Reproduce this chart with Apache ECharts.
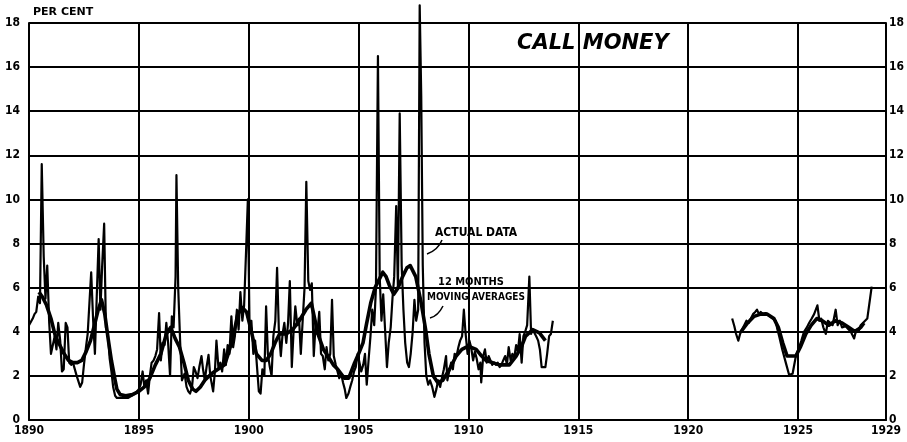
<!DOCTYPE html>
<html>
<head>
<meta charset="utf-8">
<title>Call Money</title>
<script src="https://cdn.jsdelivr.net/npm/echarts@6/dist/echarts.min.js"></script>
<style>
  html, body { margin: 0; padding: 0; background: #fff; }
  #chart { width: 907px; height: 442px; }
</style>
</head>
<body>
<div id="chart"></div>
<script>
// call money rates, per cent — [year, rate]
const actual1890 = [
  [1890.00, 4.3], [1890.08, 4.3], [1890.17, 4.6], [1890.25, 4.8], [1890.33, 4.9], [1890.42, 5.6],
  [1890.50, 5.3], [1890.58, 11.6], [1890.67, 7.4], [1890.75, 5.5], [1890.83, 7.0], [1890.92, 4.4],
  [1891.00, 3.0], [1891.08, 3.0], [1891.17, 3.8], [1891.25, 3.2], [1891.33, 4.4], [1891.42, 3.6],
  [1891.50, 2.2], [1891.58, 2.3], [1891.67, 4.4], [1891.75, 4.2], [1891.83, 2.6], [1891.92, 2.5],
  [1892.00, 2.6], [1892.17, 2.0], [1892.33, 1.5], [1892.42, 1.7], [1892.50, 2.5], [1892.58, 3.2],
  [1892.67, 3.9], [1892.75, 5.3], [1892.83, 6.7], [1892.92, 4.5], [1893.00, 3.0], [1893.08, 5.5],
  [1893.17, 8.2], [1893.25, 5.0], [1893.33, 7.0], [1893.42, 8.9], [1893.50, 4.2], [1893.58, 4.0],
  [1893.67, 2.8], [1893.75, 2.2], [1893.83, 1.5], [1893.92, 1.1], [1894.00, 1.0], [1894.17, 1.0],
  [1894.33, 1.0], [1894.50, 1.0], [1894.67, 1.1], [1894.83, 1.2], [1895.00, 1.4], [1895.08, 1.6],
  [1895.17, 2.2], [1895.25, 1.5], [1895.33, 1.8], [1895.42, 1.2], [1895.50, 2.0], [1895.58, 2.6],
  [1895.67, 2.7], [1895.75, 2.9], [1895.83, 3.2], [1895.92, 4.85], [1896.00, 2.7], [1896.08, 3.5],
  [1896.17, 3.4], [1896.25, 4.4], [1896.33, 3.5], [1896.42, 2.0], [1896.50, 4.7], [1896.58, 4.2],
  [1896.67, 6.5], [1896.71, 11.1], [1896.79, 6.0], [1896.88, 3.5], [1896.96, 1.8], [1897.08, 2.1],
  [1897.17, 1.5], [1897.25, 1.3], [1897.33, 1.2], [1897.42, 1.5], [1897.50, 2.4], [1897.58, 2.2],
  [1897.67, 1.9], [1897.75, 2.4], [1897.85, 2.9], [1897.92, 2.3], [1898.00, 1.8], [1898.08, 2.4],
  [1898.17, 2.95], [1898.25, 2.0], [1898.38, 1.3], [1898.46, 2.2], [1898.53, 3.6], [1898.62, 2.4],
  [1898.71, 2.6], [1898.79, 2.2], [1898.88, 3.2], [1898.96, 2.5], [1899.04, 3.4], [1899.12, 3.0],
  [1899.21, 4.7], [1899.29, 3.3], [1899.37, 3.8], [1899.46, 5.0], [1899.54, 4.1], [1899.62, 5.8],
  [1899.71, 4.5], [1899.79, 5.2], [1899.88, 7.7], [1899.96, 10.0], [1900.04, 4.0], [1900.12, 4.5],
  [1900.21, 3.0], [1900.29, 3.6], [1900.37, 2.5], [1900.46, 1.3], [1900.54, 1.2], [1900.62, 2.3],
  [1900.71, 2.0], [1900.79, 5.15], [1900.87, 3.0], [1900.96, 2.4], [1901.04, 2.0], [1901.12, 3.8],
  [1901.21, 4.5], [1901.29, 6.9], [1901.37, 4.1], [1901.46, 2.9], [1901.54, 3.9], [1901.62, 4.4],
  [1901.71, 3.5], [1901.79, 4.4], [1901.87, 6.3], [1901.96, 2.4], [1902.04, 4.0], [1902.12, 5.15],
  [1902.21, 4.3], [1902.29, 4.6], [1902.37, 3.0], [1902.46, 4.6], [1902.54, 6.0], [1902.62, 10.8],
  [1902.71, 6.3], [1902.79, 5.9], [1902.87, 6.2], [1902.96, 2.9], [1903.04, 4.3], [1903.12, 3.9],
  [1903.21, 4.9], [1903.29, 3.0], [1903.37, 2.9], [1903.46, 2.3], [1903.54, 3.3], [1903.62, 2.7],
  [1903.71, 3.0], [1903.79, 5.45], [1903.87, 2.9], [1903.96, 2.5], [1904.04, 2.2], [1904.12, 1.9],
  [1904.21, 2.1], [1904.29, 1.7], [1904.37, 1.4], [1904.44, 1.0], [1904.54, 1.2], [1904.62, 1.5],
  [1904.71, 1.8], [1904.79, 2.2], [1904.87, 2.4], [1904.96, 3.0], [1905.04, 3.0], [1905.12, 2.2],
  [1905.21, 2.5], [1905.29, 3.0], [1905.37, 1.6], [1905.46, 2.8], [1905.54, 3.8], [1905.62, 5.0],
  [1905.71, 4.3], [1905.79, 6.0], [1905.88, 16.5], [1905.96, 6.5], [1906.04, 4.5], [1906.12, 5.7],
  [1906.21, 4.0], [1906.29, 2.4], [1906.37, 3.5], [1906.46, 4.2], [1906.54, 5.5], [1906.62, 6.5],
  [1906.71, 9.7], [1906.79, 6.0], [1906.87, 13.9], [1906.96, 7.0], [1907.04, 5.0], [1907.12, 3.5],
  [1907.21, 2.6], [1907.29, 2.4], [1907.37, 3.0], [1907.46, 4.0], [1907.54, 5.45], [1907.62, 4.5],
  [1907.71, 5.0], [1907.78, 18.8], [1907.85, 14.7], [1907.92, 7.0], [1908.00, 3.5], [1908.08, 2.0],
  [1908.17, 1.6], [1908.25, 1.8], [1908.35, 1.5], [1908.45, 1.05], [1908.54, 1.4], [1908.62, 1.8],
  [1908.71, 1.5], [1908.79, 1.9], [1908.88, 2.3], [1908.98, 2.9], [1909.04, 1.8], [1909.12, 2.2],
  [1909.21, 2.6], [1909.29, 2.3], [1909.37, 3.0], [1909.46, 2.9], [1909.54, 3.3], [1909.62, 3.6],
  [1909.71, 3.8], [1909.79, 5.0], [1909.87, 3.9], [1909.96, 3.0], [1910.04, 3.6], [1910.12, 3.3],
  [1910.21, 2.7], [1910.29, 3.1], [1910.37, 2.8], [1910.46, 2.3], [1910.54, 2.6], [1910.58, 1.7],
  [1910.67, 2.9], [1910.75, 3.2], [1910.83, 2.6], [1910.92, 2.9], [1911.00, 2.7], [1911.08, 2.5],
  [1911.17, 2.6], [1911.25, 2.5], [1911.33, 2.6], [1911.42, 2.4], [1911.50, 2.5], [1911.58, 2.7],
  [1911.67, 2.9], [1911.75, 2.5], [1911.83, 3.3], [1911.92, 2.7], [1912.00, 3.0], [1912.08, 2.8],
  [1912.17, 3.4], [1912.25, 3.1], [1912.33, 3.9], [1912.42, 2.6], [1912.50, 3.8], [1912.58, 4.0],
  [1912.67, 4.3], [1912.77, 6.5], [1912.85, 3.9], [1912.92, 4.1], [1913.00, 4.1], [1913.08, 3.8],
  [1913.17, 3.6], [1913.25, 3.2], [1913.33, 2.4], [1913.42, 2.4], [1913.50, 2.4], [1913.58, 3.0],
  [1913.67, 3.8], [1913.75, 3.9], [1913.84, 4.5]
];

const actual1922 = [
  [1922.00, 4.6], [1922.10, 4.25], [1922.18, 3.9], [1922.28, 3.6], [1922.36, 3.9], [1922.45, 4.1],
  [1922.55, 4.3], [1922.65, 4.5], [1922.75, 4.4], [1922.85, 4.6], [1922.95, 4.8], [1923.05, 4.9],
  [1923.13, 5.0], [1923.22, 4.8], [1923.30, 4.9], [1923.40, 4.8], [1923.53, 4.85], [1923.62, 4.8],
  [1923.72, 4.7], [1923.85, 4.6], [1923.98, 4.5], [1924.06, 4.1], [1924.14, 3.8], [1924.28, 3.2],
  [1924.44, 2.6], [1924.59, 2.05], [1924.75, 2.1], [1924.90, 2.9], [1925.05, 3.3], [1925.15, 3.6],
  [1925.27, 4.0], [1925.40, 4.2], [1925.50, 4.4], [1925.62, 4.6], [1925.73, 4.8], [1925.88, 5.2],
  [1925.97, 4.5], [1926.05, 4.6], [1926.15, 4.2], [1926.26, 3.9], [1926.36, 4.5], [1926.47, 4.4],
  [1926.57, 4.3], [1926.71, 5.0], [1926.80, 4.3], [1926.90, 4.5], [1927.00, 4.2], [1927.17, 4.25],
  [1927.30, 4.1], [1927.40, 4.0], [1927.55, 3.7], [1927.65, 4.1], [1927.75, 4.0], [1927.85, 4.3],
  [1927.95, 4.4], [1928.05, 4.5], [1928.15, 4.6], [1928.35, 6.05]
];

// 12 months moving averages
const avg1890 = [
  [1890.45, 5.8], [1890.6, 5.6], [1890.8, 5.2], [1891.0, 4.6], [1891.2, 3.8], [1891.4, 3.4],
  [1891.6, 3.0], [1891.8, 2.7], [1892.0, 2.6], [1892.2, 2.6], [1892.4, 2.7], [1892.6, 3.1],
  [1892.8, 3.6], [1893.0, 4.4], [1893.15, 5.0], [1893.3, 5.45], [1893.45, 4.8], [1893.6, 3.7],
  [1893.75, 2.7], [1893.9, 1.9], [1894.0, 1.4], [1894.15, 1.15], [1894.4, 1.1], [1894.7, 1.15],
  [1895.0, 1.3], [1895.25, 1.5], [1895.5, 1.9], [1895.75, 2.5], [1896.0, 3.0], [1896.25, 3.9],
  [1896.45, 4.2], [1896.65, 3.7], [1896.85, 3.3], [1897.05, 2.6], [1897.25, 1.8], [1897.45, 1.4],
  [1897.6, 1.3], [1897.8, 1.5], [1898.0, 1.8], [1898.3, 2.1], [1898.6, 2.3], [1898.9, 2.5],
  [1899.1, 3.1], [1899.3, 3.8], [1899.5, 4.8], [1899.7, 5.1], [1899.9, 4.9], [1900.1, 4.1],
  [1900.35, 3.0], [1900.6, 2.7], [1900.8, 2.7], [1901.0, 3.0], [1901.2, 3.5], [1901.4, 3.9],
  [1901.7, 3.9], [1902.0, 4.1], [1902.3, 4.5], [1902.6, 5.0], [1902.85, 5.3], [1903.0, 4.6],
  [1903.15, 3.9], [1903.4, 3.2], [1903.6, 2.9], [1903.85, 2.5], [1904.05, 2.3], [1904.35, 1.9],
  [1904.55, 1.9], [1904.82, 2.6], [1905.0, 3.0], [1905.2, 3.5], [1905.35, 4.3], [1905.55, 5.3],
  [1905.75, 6.0], [1905.95, 6.4], [1906.1, 6.7], [1906.25, 6.5], [1906.4, 6.1], [1906.6, 5.7],
  [1906.8, 6.0], [1907.0, 6.5], [1907.2, 6.9], [1907.35, 7.0], [1907.6, 6.5], [1907.85, 5.3],
  [1908.05, 4.1], [1908.2, 3.0], [1908.4, 2.0], [1908.6, 1.7], [1908.83, 1.8], [1909.14, 2.3],
  [1909.44, 2.9], [1909.7, 3.2], [1909.9, 3.3], [1910.1, 3.3], [1910.35, 3.2], [1910.6, 2.9],
  [1910.8, 2.7], [1911.1, 2.6], [1911.4, 2.5], [1911.86, 2.5], [1912.17, 2.9], [1912.4, 3.3],
  [1912.6, 3.8], [1912.92, 4.1], [1913.23, 3.95], [1913.5, 3.6]
];

const avg1922 = [
  [1922.4, 4.0], [1922.7, 4.4], [1923.0, 4.7], [1923.3, 4.8], [1923.6, 4.8], [1923.9, 4.6],
  [1924.1, 4.2], [1924.3, 3.5], [1924.5, 2.9], [1924.9, 2.9], [1925.1, 3.3], [1925.35, 3.9],
  [1925.6, 4.3], [1925.85, 4.6], [1926.1, 4.5], [1926.4, 4.3], [1926.7, 4.5], [1927.0, 4.4],
  [1927.3, 4.2], [1927.6, 4.0], [1927.85, 4.2], [1928.0, 4.4]
];

const yearMin = 1890;
const yearMax = 1929;

const chart = echarts.init(document.getElementById('chart'));

const labelFont = {
  color: '#000',
  fontFamily: 'DejaVu Sans Condensed',
  fontWeight: 'bold',
  fontSize: 12
};

function lineSeries(name, data, width) {
  return {
    name: name,
    type: 'line',
    data: data,
    showSymbol: false,
    clip: false,
    animation: false,
    lineStyle: { color: '#000', width: width, join: 'round' }
  };
}

const option = {
  backgroundColor: '#fff',
  animation: false,
  grid: { left: 29, right: 20, top: 23, bottom: 22 },
  xAxis: {
    type: 'value',
    min: yearMin,
    max: yearMax,
    interval: 5,
    axisLine: { show: true, lineStyle: { color: '#000', width: 2 } },
    axisTick: { show: false },
    splitLine: { show: true, lineStyle: { color: '#000', width: 2 } },
    axisLabel: Object.assign({ margin: 5, formatter: v => String(v), showMaxLabel: true }, labelFont)
  },
  yAxis: [
    {
      type: 'value',
      min: 0,
      max: 18,
      interval: 2,
      position: 'left',
      axisLine: { show: true, lineStyle: { color: '#000', width: 2 } },
      axisTick: { show: false },
      splitLine: { show: true, lineStyle: { color: '#000', width: 2 } },
      axisLabel: Object.assign({ margin: 9 }, labelFont)
    },
    {
      type: 'value',
      min: 0,
      max: 18,
      interval: 2,
      position: 'right',
      axisLine: { show: true, lineStyle: { color: '#000', width: 2 } },
      axisTick: { show: false },
      splitLine: { show: false },
      axisLabel: Object.assign({ margin: 3 }, labelFont)
    }
  ],
  series: [
    lineSeries('Actual data', actual1890, 2.2),
    lineSeries('Actual data', actual1922, 2.2),
    lineSeries('12 months moving averages', avg1890, 3.6),
    lineSeries('12 months moving averages', avg1922, 3.6)
  ],
  graphic: [
    { type: 'text', left: 33, top: 7, style: { text: 'PER CENT', fill: '#000', font: 'bold 11px "DejaVu Sans"' } },
    { type: 'text', left: 517, top: 33, style: { text: 'CALL MONEY', fill: '#000', font: 'italic bold 21px "DejaVu Sans"' } },
    { type: 'text', left: 435, top: 227, style: { text: 'ACTUAL DATA', fill: '#000', font: 'bold 12px "DejaVu Sans Condensed"' } },
    { type: 'text', left: 438, top: 277, style: { text: '12 MONTHS', fill: '#000', font: 'bold 11px "DejaVu Sans Condensed"' } },
    { type: 'text', left: 427, top: 292, style: { text: 'MOVING AVERAGES', fill: '#000', font: 'bold 10px "DejaVu Sans Condensed"' } },
    { type: 'bezierCurve', shape: { x1: 442, y1: 240, x2: 427, y2: 254, cpx1: 438, cpy1: 250 }, style: { stroke: '#000', lineWidth: 1.5, fill: null } },
    { type: 'bezierCurve', shape: { x1: 443, y1: 306, x2: 430, y2: 318, cpx1: 438, cpy1: 316 }, style: { stroke: '#000', lineWidth: 1.5, fill: null } }
  ]
};

chart.setOption(option);
window.addEventListener('resize', () => chart.resize());
</script>
</body>
</html>
